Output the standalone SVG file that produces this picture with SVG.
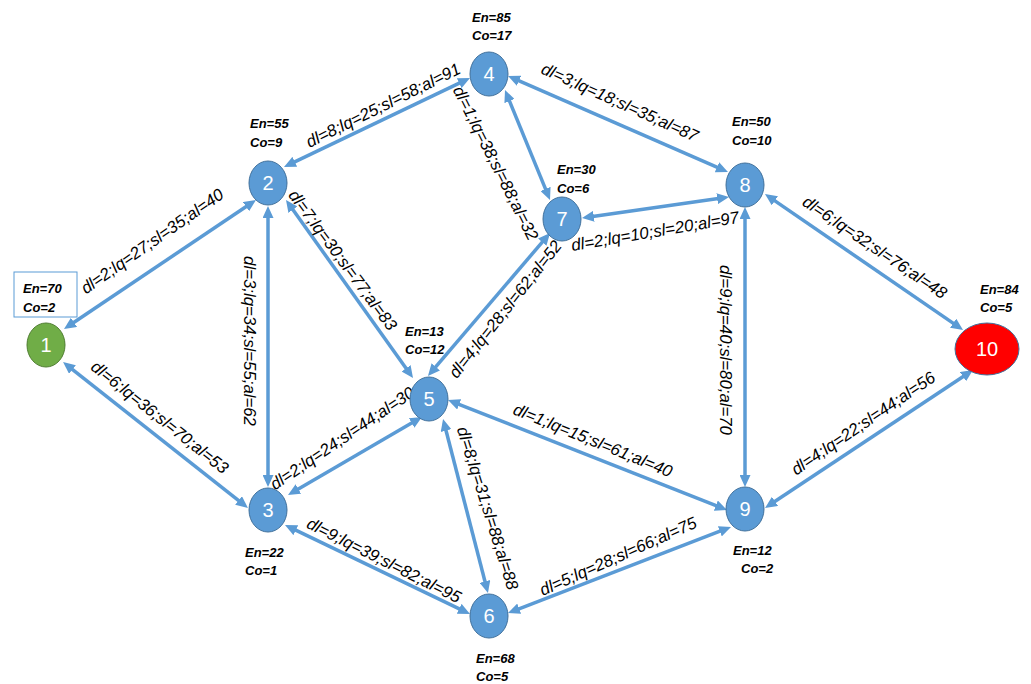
<svg xmlns="http://www.w3.org/2000/svg" width="1031" height="684" viewBox="0 0 1031 684">
<style>
.edge{stroke:#5B9BD5;stroke-width:3.5;fill:none;marker-start:url(#ah);marker-end:url(#ah)}
.el{font-family:"Liberation Sans",Arial,sans-serif;font-style:italic;font-size:16.8px;fill:#000;text-anchor:middle}
.info{font-family:"Liberation Sans",Arial,sans-serif;font-style:italic;font-weight:bold;font-size:13px;fill:#000}
.node{fill:#5B9BD5;stroke:#41719C;stroke-width:1}
.num{font-family:"Liberation Sans",Arial,sans-serif;font-size:20px;fill:#fff;text-anchor:middle}
</style>
<defs>
<marker id="ah" markerUnits="userSpaceOnUse" markerWidth="12" markerHeight="11" refX="3" refY="5.5" orient="auto-start-reverse">
<path d="M0,0 L12,5.5 L0,11 z" fill="#5B9BD5"/>
</marker>
</defs>
<rect width="1031" height="684" fill="#fff"/>
<g id="connectors">
<line class="edge" x1="71.5" y1="324" x2="248.5" y2="205"/>
<line class="edge" x1="70.1" y1="367.6" x2="240.9" y2="502.4"/>
<line class="edge" x1="268" y1="215" x2="268" y2="478"/>
<line class="edge" x1="292.1" y1="163.1" x2="461.9" y2="81.9"/>
<line class="edge" x1="291.2" y1="207.3" x2="407.8" y2="370.7"/>
<line class="edge" x1="508.4" y1="98.3" x2="546.6" y2="191.7"/>
<line class="edge" x1="516.3" y1="79.6" x2="719.7" y2="168.4"/>
<line class="edge" x1="590.9" y1="216.7" x2="720.1" y2="198.3"/>
<line class="edge" x1="433.8" y1="369.2" x2="544.2" y2="239.8"/>
<line class="edge" x1="295.8" y1="490.5" x2="414.2" y2="421.5"/>
<line class="edge" x1="456.4" y1="403.3" x2="718.6" y2="506.7"/>
<line class="edge" x1="445.3" y1="427.7" x2="485.7" y2="584.3"/>
<line class="edge" x1="293.1" y1="528.9" x2="461.9" y2="610.1"/>
<line class="edge" x1="516.4" y1="609.8" x2="722.6" y2="530.2"/>
<line class="edge" x1="745" y1="216" x2="745" y2="478"/>
<line class="edge" x1="772.4" y1="199.1" x2="955.6" y2="324.9"/>
<line class="edge" x1="772.5" y1="503" x2="965.5" y2="375"/>
<text class="el" transform="translate(152,241) rotate(-35)" y="6">dl=2;lq=27;sl=35;al=40</text>
<text class="el" transform="translate(160,417) rotate(38.5)" y="6">dl=6;lq=36;sl=70;al=53</text>
<text class="el" transform="translate(250,341) rotate(90)" y="6">dl=3;lq=34;sl=55;al=62</text>
<text class="el" transform="translate(383,105) rotate(-26.3)" y="6">dl=8;lq=25;sl=58;al=91</text>
<text class="el" transform="translate(343,260) rotate(53.5)" y="6">dl=7;lq=30;sl=77;al=83</text>
<text class="el" transform="translate(496,163) rotate(63.4)" y="6">dl=1;lq=38;sl=88;al=32</text>
<text class="el" transform="translate(620,102) rotate(24)" y="6">dl=3;lq=18;sl=35;al=87</text>
<text class="el" transform="translate(655,231) rotate(-9.6)" y="6">dl=2;lq=10;sl=20;al=97</text>
<text class="el" transform="translate(505,309) rotate(-51.5)" y="6">dl=4;lq=28;sl=62;al=52</text>
<text class="el" transform="translate(342,438) rotate(-34)" y="6">dl=2;lq=24;sl=44;al=30</text>
<text class="el" transform="translate(593,440) rotate(22)" y="6">dl=1;lq=15;sl=61;al=40</text>
<text class="el" transform="translate(488,508) rotate(72.5)" y="6">dl=8;lq=31;sl=88;al=88</text>
<text class="el" transform="translate(384,560) rotate(26.6)" y="6">dl=9;lq=39;sl=82;al=95</text>
<text class="el" transform="translate(618,556) rotate(-24)" y="6">dl=5;lq=28;sl=66;al=75</text>
<text class="el" transform="translate(726,350) rotate(90)" y="6">dl=9;lq=40;sl=80;al=70</text>
<text class="el" transform="translate(875,247) rotate(34)" y="6">dl=6;lq=32;sl=76;al=48</text>
<text class="el" transform="translate(863,423) rotate(-34.2)" y="6">dl=4;lq=22;sl=44;al=56</text>
</g>
<g id="node1">
<rect x="14" y="272" width="63" height="45" fill="#fff" stroke="#5B9BD5" stroke-width="1"/>
<text class="info" x="23" y="293">En=70</text>
<text class="info" x="23" y="312">Co=2</text>
<ellipse cx="46" cy="345" rx="19" ry="22" fill="#70AD47" stroke="#507E32" stroke-width="1"/>
<text class="num" x="46" y="352">1</text>
</g>
<g id="node2">
<text class="info" x="250" y="128">En=55</text>
<text class="info" x="250" y="147">Co=9</text>
<ellipse class="node" cx="268" cy="183" rx="19" ry="22"/>
<text class="num" x="268" y="190">2</text>
</g>
<g id="node3">
<text class="info" x="245" y="557">En=22</text>
<text class="info" x="245" y="575">Co=1</text>
<ellipse class="node" cx="268" cy="510" rx="19" ry="22"/>
<text class="num" x="268" y="517">3</text>
</g>
<g id="node4">
<text class="info" x="472" y="22">En=85</text>
<text class="info" x="472" y="40">Co=17</text>
<ellipse class="node" cx="489" cy="74" rx="19" ry="22"/>
<text class="num" x="489" y="81">4</text>
</g>
<g id="node5">
<text class="info" x="405" y="336">En=13</text>
<text class="info" x="405" y="354">Co=12</text>
<ellipse class="node" cx="429" cy="399" rx="19" ry="22"/>
<text class="num" x="429" y="406">5</text>
</g>
<g id="node6">
<text class="info" x="476" y="663">En=68</text>
<text class="info" x="476" y="681">Co=5</text>
<ellipse class="node" cx="489" cy="616" rx="19" ry="22"/>
<text class="num" x="489" y="623">6</text>
</g>
<g id="node7">
<text class="info" x="557" y="174">En=30</text>
<text class="info" x="557" y="193">Co=6</text>
<ellipse class="node" cx="562" cy="219" rx="19" ry="22"/>
<text class="num" x="562" y="226">7</text>
</g>
<g id="node8">
<text class="info" x="732" y="126">En=50</text>
<text class="info" x="732" y="145">Co=10</text>
<ellipse class="node" cx="745" cy="185" rx="19" ry="22"/>
<text class="num" x="745" y="192">8</text>
</g>
<g id="node9">
<text class="info" x="733" y="555">En=12</text>
<text class="info" x="741" y="573">Co=2</text>
<ellipse class="node" cx="745" cy="509" rx="19" ry="22"/>
<text class="num" x="745" y="516">9</text>
</g>
<g id="node10">
<text class="info" x="980" y="294">En=84</text>
<text class="info" x="980" y="312">Co=5</text>
<ellipse cx="987" cy="349" rx="32" ry="26" fill="#FF0000" stroke="#41719C" stroke-width="1"/>
<text class="num" x="987" y="356">10</text>
</g>
</svg>
